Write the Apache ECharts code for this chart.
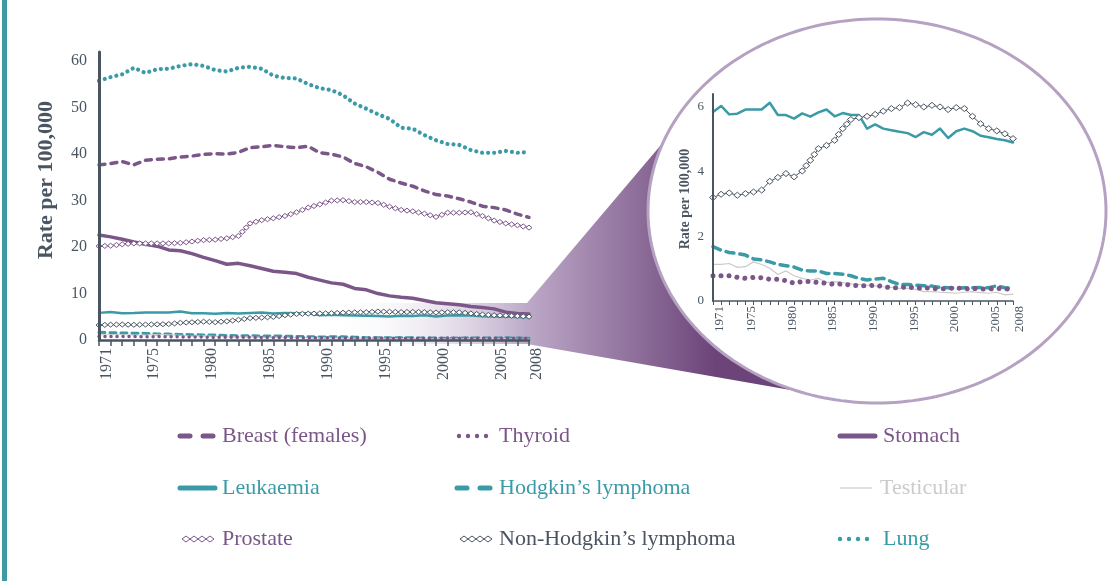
<!DOCTYPE html>
<html><head><meta charset="utf-8">
<script src="https://cdn.jsdelivr.net/npm/echarts@6/dist/echarts.min.js"></script>
<style>html,body{margin:0;padding:0;background:#fff}#c{width:1112px;height:581px}</style>
</head><body><div id="c"></div>
<script>
const years = [];
for (let y = 1971; y <= 2008; y++) years.push(String(y));
const yTicksMain = [0, 10, 20, 30, 40, 50, 60];
const yTicksInset = [0, 2, 4, 6];

const lung = [55.8,56.6,57.2,58.6,57.5,58.3,58.4,59.0,59.4,59.0,58.1,57.8,58.6,58.8,58.4,56.9,56.4,56.3,55.1,54.2,53.8,52.7,50.9,49.8,48.6,47.6,45.7,45.5,44.1,43.0,42.2,42.0,40.9,40.3,40.3,40.7,40.3,40.5];
const breast = [37.7,38.0,38.4,37.7,38.7,38.9,39.0,39.4,39.6,40.0,40.1,40.0,40.4,41.4,41.6,41.9,41.6,41.4,41.7,40.3,40.0,39.4,38.0,37.3,36.1,34.6,33.8,33.1,32.1,31.3,31.0,30.4,29.7,28.8,28.5,28.0,27.1,26.4];
const prostate = [20.2,20.3,20.6,20.8,20.8,20.8,20.8,20.9,21.2,21.5,21.6,21.9,22.4,25.1,25.8,26.2,26.7,27.5,28.5,29.2,30.0,30.1,29.7,29.7,29.5,28.7,28.0,27.7,27.2,26.5,27.4,27.4,27.5,26.7,25.7,25.1,24.7,24.2];
const stomach = [22.6,22.2,21.7,21.1,20.6,20.2,19.4,19.2,18.6,17.8,17.1,16.3,16.5,16.0,15.4,14.8,14.6,14.3,13.5,12.9,12.3,12.0,11.1,10.8,10.0,9.5,9.2,9.0,8.5,8.0,7.8,7.6,7.2,7.0,6.7,6.0,5.7,5.6];
const leukaemia = [5.84,6.03,5.77,5.79,5.92,5.92,5.92,6.13,5.75,5.75,5.64,5.80,5.70,5.83,5.92,5.71,5.81,5.75,5.75,5.33,5.46,5.33,5.28,5.23,5.19,5.07,5.22,5.14,5.33,5.04,5.25,5.33,5.25,5.11,5.06,5.01,4.97,4.90];
const nhl = [3.20,3.30,3.34,3.27,3.32,3.37,3.43,3.70,3.82,3.94,3.84,4.02,4.35,4.71,4.81,4.97,5.33,5.61,5.67,5.71,5.77,5.87,5.95,5.98,6.12,6.07,6.00,6.05,6.00,5.92,5.98,5.95,5.71,5.48,5.33,5.26,5.17,5.02];
const hodgkin = [1.68,1.57,1.50,1.47,1.42,1.30,1.27,1.21,1.13,1.09,1.05,0.95,0.93,0.93,0.85,0.85,0.83,0.78,0.70,0.65,0.68,0.70,0.60,0.51,0.51,0.49,0.47,0.46,0.42,0.41,0.39,0.41,0.41,0.42,0.41,0.47,0.41,0.39];
const thyroid = [0.78,0.78,0.78,0.73,0.70,0.73,0.72,0.67,0.67,0.63,0.55,0.60,0.60,0.57,0.55,0.51,0.53,0.49,0.47,0.47,0.49,0.44,0.41,0.41,0.44,0.39,0.41,0.39,0.37,0.39,0.41,0.37,0.39,0.37,0.37,0.39,0.37,0.37];
const testicular = [1.13,1.13,1.16,1.04,1.06,1.21,1.13,1.01,0.82,0.93,0.78,0.70,0.65,0.70,0.57,0.60,0.57,0.53,0.51,0.49,0.47,0.44,0.42,0.39,0.39,0.36,0.29,0.29,0.27,0.26,0.24,0.27,0.29,0.26,0.24,0.27,0.19,0.21];

const PURPLE = '#7b5689', TEAL = '#3a9ba7', DARK = '#4a5562', GREY = '#cbcbcb';
const SERIF = '"Liberation Serif", "DejaVu Serif", serif';

function lineS(name, data, ax, color, width, type, extra) {
  return Object.assign({
    name, type: 'line', data, xAxisIndex: ax, yAxisIndex: ax,
    showSymbol: false, symbol: 'none', silent: true, z: 3,
    lineStyle: { color, width, type: type || 'solid', cap: 'round', join: 'round' }
  }, extra || {});
}
function diamondChain(name, data, ax, color, spacing, w, h) {
  return {
    name: name + ' markers', type: 'custom', xAxisIndex: ax, yAxisIndex: ax, z: 4, silent: true,
    data: data.map((v, i) => [i, v]),
    renderItem: function (params, api) {
      const i = params.dataIndex;
      const p0 = api.coord([i, data[i]]);
      const centers = [];
      if (i < data.length - 1) {
        const p1 = api.coord([i + 1, data[i + 1]]);
        const dx = p1[0] - p0[0], dy = p1[1] - p0[1];
        const n = Math.max(1, Math.round(Math.hypot(dx, dy) / spacing));
        for (let k = 0; k < n; k++) centers.push([p0[0] + dx * k / n, p0[1] + dy * k / n]);
      } else centers.push(p0);
      return {
        type: 'group',
        children: centers.map(c => ({
          type: 'polygon',
          shape: { points: [[c[0] - w / 2, c[1]], [c[0], c[1] - h / 2], [c[0] + w / 2, c[1]], [c[0], c[1] + h / 2]] },
          style: { fill: '#fff', stroke: color, lineWidth: 1 }
        }))
      };
    }
  };
}

const labelYears = i => i === 0 || i === years.length - 1 || (Number(years[i]) % 5 === 0);

const legendItems = [
  { text: 'Breast (females)', color: PURPLE, x: 222, y: 436, icon: 'dash', ix: 178 },
  { text: 'Thyroid', color: PURPLE, x: 499, y: 436, icon: 'dot', ix: 457 },
  { text: 'Stomach', color: PURPLE, x: 883, y: 436, icon: 'thick', ix: 838 },
  { text: 'Leukaemia', color: TEAL, x: 222, y: 488, icon: 'thick', ix: 178 },
  { text: 'Hodgkin\u2019s lymphoma', color: TEAL, x: 499, y: 488, icon: 'dash', ix: 455 },
  { text: 'Testicular', color: GREY, x: 880, y: 488, icon: 'thin', ix: 840 },
  { text: 'Prostate', color: PURPLE, x: 222, y: 539, icon: 'diamond', ix: 182 },
  { text: 'Non-Hodgkin\u2019s lymphoma', color: DARK, x: 499, y: 539, icon: 'diamond', ix: 460 },
  { text: 'Lung', color: TEAL, x: 883, y: 539, icon: 'dot', ix: 838 }
];

const ellPts = [];
for (let k = 0; k < 240; k++) {
  const a = k / 240 * Math.PI * 2;
  ellPts.push([877 + 229 * Math.cos(a), 211 + 192 * Math.sin(a)]);
}

const graphics = [];
graphics.push({ type: 'rect', z: 0, shape: { x: 2, y: 0, width: 5, height: 581 }, style: { fill: '#3e9ba6' } });
graphics.push({ type: 'rect', z: 0, shape: { x: 330, y: 303, width: 198, height: 41 },
  style: { fill: { type: 'linear', x: 0, y: 0, x2: 1, y2: 0, colorStops: [{ offset: 0, color: 'rgba(255,255,255,0)' }, { offset: 1, color: '#bba8c7' }] } } });
graphics.push({ type: 'polygon', z: 0, shape: { points: [[527, 303], [716, 80], [802, 392], [527, 344]] },
  style: { fill: { type: 'linear', x: 527, y: 0, x2: 715, y2: 0, global: true, colorStops: [{ offset: 0, color: '#bda9c8' }, { offset: 1, color: '#6c4479' }] } } });
graphics.push({ type: 'polygon', z: 1, shape: { points: ellPts },
  style: { fill: '#fff', stroke: '#b5a1c2', lineWidth: 3 } });
graphics.push({ type: 'text', z: 5, x: 46, y: 180, rotation: Math.PI / 2,
  style: { text: 'Rate per 100,000', font: 'bold 22px ' + SERIF, fill: DARK, align: 'center', verticalAlign: 'middle' } });
graphics.push({ type: 'text', z: 5, x: 685, y: 199, rotation: Math.PI / 2,
  style: { text: 'Rate per 100,000', font: 'bold 14px ' + SERIF, fill: DARK, align: 'center', verticalAlign: 'middle' } });
legendItems.forEach(it => {
  const y = it.y, x = it.ix;
  if (it.icon === 'dash') {
    graphics.push({ type: 'line', z: 5, shape: { x1: x + 2, y1: y, x2: x + 12, y2: y }, style: { stroke: it.color, lineWidth: 5, lineCap: 'round' } });
    graphics.push({ type: 'line', z: 5, shape: { x1: x + 25, y1: y, x2: x + 35, y2: y }, style: { stroke: it.color, lineWidth: 5, lineCap: 'round' } });
  } else if (it.icon === 'dot') {
    for (let k = 0; k < 4; k++) graphics.push({ type: 'circle', z: 5, shape: { cx: x + 2 + k * 9, cy: y, r: 2.2 }, style: { fill: it.color } });
  } else if (it.icon === 'thick') {
    graphics.push({ type: 'line', z: 5, shape: { x1: x + 2, y1: y, x2: x + 37, y2: y }, style: { stroke: it.color, lineWidth: 5, lineCap: 'round' } });
  } else if (it.icon === 'thin') {
    graphics.push({ type: 'line', z: 5, shape: { x1: x, y1: y, x2: x + 32, y2: y }, style: { stroke: it.color, lineWidth: 1.2 } });
  } else if (it.icon === 'diamond') {
    for (let k = 0; k < 4; k++) {
      const cx = x + 4 + k * 8;
      graphics.push({ type: 'polygon', z: 5, shape: { points: [[cx - 4, y], [cx, y - 3], [cx + 4, y], [cx, y + 3]] }, style: { fill: '#fff', stroke: it.color, lineWidth: 1 } });
    }
  }
  graphics.push({ type: 'text', z: 5, x: it.x, y: y, style: { text: it.text, font: '22px ' + SERIF, fill: it.color, align: 'left', verticalAlign: 'middle' } });
});

const chart = echarts.init(document.getElementById('c'), null, { renderer: 'canvas' });
chart.setOption({
  animation: false,
  backgroundColor: '#fff',
  grid: [
    { left: 99, top: 52, width: 430, height: 288 },
    { left: 713, top: 94, width: 300, height: 207 }
  ],
  xAxis: [
    { type: 'category', gridIndex: 0, data: years, boundaryGap: false, z: 6,
      axisLine: { lineStyle: { color: DARK, width: 2.5 } },
      axisTick: { show: true, interval: 0, length: 6, lineStyle: { color: DARK, width: 1.5 } },
      axisLabel: { interval: (i) => labelYears(i), rotate: 90, fontSize: 16, color: DARK, fontFamily: SERIF, margin: 8, verticalAlign: 'top' } },
    { type: 'category', gridIndex: 1, data: years, boundaryGap: false, z: 6,
      axisLine: { lineStyle: { color: DARK, width: 1.5 } },
      axisTick: { show: true, interval: 0, length: 4, lineStyle: { color: DARK, width: 1 } },
      axisLabel: { interval: (i) => labelYears(i), rotate: 90, fontSize: 13, color: DARK, fontFamily: SERIF, margin: 5, verticalAlign: 'top' } }
  ],
  yAxis: [
    { type: 'value', gridIndex: 0, min: 0, max: 62, interval: 10, z: 6,
      axisLine: { show: true, lineStyle: { color: DARK, width: 3 } }, axisTick: { show: false }, splitLine: { show: false },
      axisLabel: { fontSize: 16, color: DARK, fontFamily: SERIF, margin: 12, showMaxLabel: false,
        formatter: v => (yTicksMain.indexOf(v) >= 0 ? String(v) : '') } },
    { type: 'value', gridIndex: 1, min: 0, max: 6.4, interval: 2, z: 6,
      axisLine: { show: true, lineStyle: { color: DARK, width: 2 } }, axisTick: { show: false }, splitLine: { show: false },
      axisLabel: { fontSize: 13, color: DARK, fontFamily: SERIF, margin: 9, showMaxLabel: false,
        formatter: v => (yTicksInset.indexOf(v) >= 0 ? String(v) : '') } }
  ],
  graphic: { elements: graphics },
  series: [
    lineS('Lung', lung, 0, TEAL, 4.2, [0.01, 6]),
    lineS('Breast (females)', breast, 0, PURPLE, 3.5, [6, 6]),
    lineS('Prostate', prostate, 0, PURPLE, 1),
    diamondChain('Prostate', prostate, 0, PURPLE, 5.8, 6, 5),
    lineS('Stomach', stomach, 0, PURPLE, 3.5),
    lineS('Leukaemia', leukaemia, 0, TEAL, 2.5),
    lineS('Non-Hodgkin\u2019s lymphoma', nhl, 0, DARK, 1),
    diamondChain('Non-Hodgkin\u2019s lymphoma', nhl, 0, DARK, 5.8, 6, 5),
    lineS('Hodgkin\u2019s lymphoma', hodgkin, 0, TEAL, 3, [6, 5]),
    lineS('Testicular', testicular, 0, GREY, 1),
    lineS('Thyroid', thyroid, 0, PURPLE, 3.5, [0.01, 6]),

    lineS('Leukaemia inset', leukaemia, 1, TEAL, 2.5),
    lineS('NHL inset', nhl, 1, DARK, 1),
    diamondChain('NHL inset', nhl, 1, DARK, 8, 7, 6),
    lineS('Testicular inset', testicular, 1, GREY, 1.2),
    lineS('Hodgkin inset', hodgkin, 1, TEAL, 3.5, [8, 6]),
    lineS('Thyroid inset', thyroid, 1, PURPLE, 5, [0.01, 8])
  ]
});
</script></body></html>
